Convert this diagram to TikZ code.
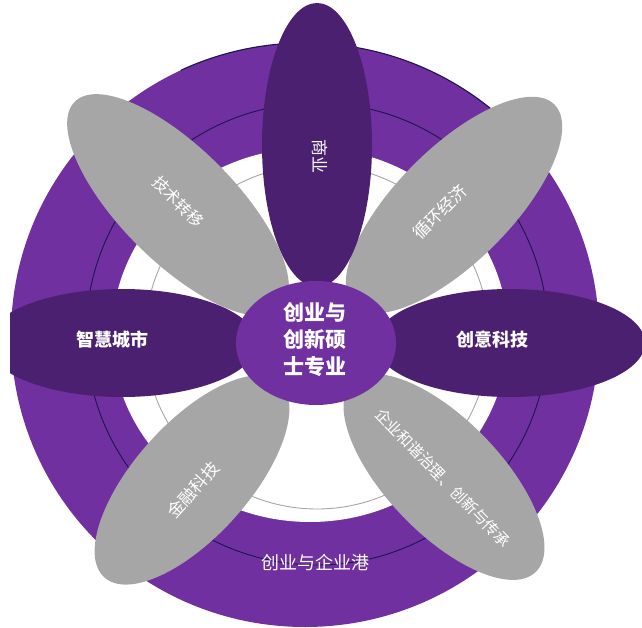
\documentclass[tikz,border=0pt]{standalone}
\usepackage{fontspec}
\newfontfamily\cjk{Noto Sans CJK SC}
\usetikzlibrary{shapes.geometric}
\definecolor{ringpurple}{HTML}{7030A0}
\definecolor{darkpetal}{HTML}{4C2070}
\definecolor{graypetal}{HTML}{A6A6A6}
\definecolor{navyline}{HTML}{1C1550}
\begin{document}
\begin{tikzpicture}[x=1pt,y=-1pt,
  petal/.style={ellipse, inner sep=0pt, outer sep=0pt, draw=none},
  lbl/.style={text=white, inner sep=0pt},
  fs/.style={font=\cjk\fontsize{#1}{#1}\selectfont},
  fsb/.style={font=\cjk\bfseries\fontsize{#1}{#1}\selectfont}]
\useasboundingbox (0,0) rectangle (642,628);
% ring
\fill[ringpurple] (305,335) ellipse [x radius=294, y radius=292];
\fill[white] (310,335) ellipse [x radius=198, y radius=187];
\draw[navyline, line width=0.9pt] (317,334) circle [radius=231];
\draw[graypetal, line width=0.9pt] (317,337) circle [radius=172];
\draw[navyline, line width=1.1pt] (305,335) ++(-115:294 and 292) arc [start angle=-115, end angle=-48, x radius=294, y radius=292];
% gray petals
\node[petal, fill=graypetal, minimum width=292, minimum height=114, rotate=-45] (jishu) at (178,205) {};
\node[petal, fill=graypetal, minimum width=284, minimum height=114, rotate=45] (xunhuan) at (454,205) {};
\node[petal, fill=graypetal, minimum width=262, minimum height=114, rotate=48] (jinrong) at (192,480) {};
\node[petal, fill=graypetal, minimum width=264, minimum height=114, rotate=-46] (qiye) at (444,477) {};
% purple petals
\node[petal, fill=darkpetal, minimum width=110, minimum height=284] (shangye) at (317,145) {};
\node[petal, fill=darkpetal, minimum width=270, minimum height=108] (chuangyi) at (510,343) {};
\begin{scope}
\clip (10,0) rectangle (642,628);
\node[petal, fill=darkpetal, minimum width=270, minimum height=108] (zhihui) at (122,343) {};
\end{scope}
% hub
\node[petal, fill=ringpurple, minimum width=160, minimum height=124] (hub) at (316,343) {};
% labels
\node[lbl, fsb=21, align=center, font=\cjk\bfseries\fontsize{21}{27}\selectfont] (hubtxt) at (315,340) {创业与\\创新硕\\士专业};
\node[lbl, fs=17, rotate=-90] (t1) at (320,157) {商业};
\node[lbl, fs=16, rotate=-45] (t2) at (178,202) {技术转移};
\node[lbl, fs=17, rotate=45] (t3) at (440,212) {循环经济};
\node[lbl, fs=17, rotate=48] (t4) at (193,490) {金融科技};
\node[lbl, fs=15.5, rotate=-46] (t5) at (443,478) {企业和谐治理、创新与传承};
\node[lbl, fsb=18] (t6) at (112,340) {智慧城市};
\node[lbl, fsb=18] (t7) at (492,340) {创意科技};
\node[lbl, fs=18] (t8) at (315,563) {创业与企业港};
\end{tikzpicture}
\end{document}
